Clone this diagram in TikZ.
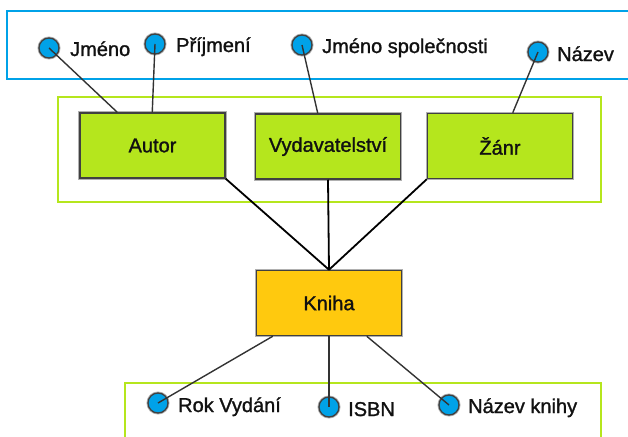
\documentclass[tikz,border=0pt]{standalone}
\usepackage{fontspec}
\setmainfont{Liberation Sans}[FakeBold=1.3]
\usetikzlibrary{calc}
\definecolor{cblue}{HTML}{00A2E8}
\definecolor{cgreen}{HTML}{B5E61D}
\definecolor{corange}{HTML}{FFC90E}
\definecolor{cedge}{HTML}{404040}
\definecolor{chalo}{HTML}{B0B0B0}
\definecolor{ctext}{HTML}{111111}
\tikzset{
  entity/.style={rectangle, draw=cedge, line width=1.5pt, minimum width=145pt, minimum height=65pt,
    font=\fontsize{20}{22}\selectfont, text=ctext, inner sep=0pt,
    preaction={draw=chalo, line width=3.5pt}},
  attr/.style={circle, draw=cedge, fill=cblue, line width=1.3pt, minimum size=20pt, inner sep=0pt,
    preaction={draw=chalo, line width=3pt}},
  lbl/.style={anchor=base west, inner sep=0pt, text=ctext, font=\fontsize{20}{22}\selectfont},
  grp/.style={line width=2pt},
  attrline/.style={draw=black!80, line width=1.4pt},
  relline/.style={draw=black, line width=1.8pt},
}
\begin{document}
\begin{tikzpicture}[x=1pt,y=-1pt]
\useasboundingbox (0,0) rectangle (628,436);
% group frames
\draw[grp, cblue] (640,11) -- (7,11) -- (7,79) -- (640,79);
\draw[grp, cgreen] (58,97) rectangle (601,202);
\draw[grp, cgreen] (125,450) -- (125,383) -- (601,383) -- (601,450);
% entities
\node[entity, fill=cgreen] (autor) at (152.5,145.5) {Autor};
\node[entity, fill=cgreen] (vyd) at (328,146.5) {Vydavatelství};
\node[entity, fill=cgreen] (zanr) at (500,146) {Žánr};
\node[entity, fill=corange] (kniha) at (329,303) {Kniha};
% attributes
\node[attr] (jmeno) at (49,48) {};
\node[attr] (prijmeni) at (155,44) {};
\node[attr] (jmspol) at (302,45) {};
\node[attr] (nazev) at (538,52) {};
\node[attr] (rok) at (158,403) {};
\node[attr] (isbn) at (329,407) {};
\node[attr] (nazevk) at (449,405) {};
% labels
\node[lbl] (tjmeno) at (70,56) {Jméno};
\node[lbl] (tprijmeni) at (176,52) {Příjmení};
\node[lbl] (tjmspol) at (322,53) {Jméno společnosti};
\node[lbl] (tnazev) at (557,61) {Název};
\node[lbl] (trok) at (178,412) {Rok Vydání};
\node[lbl] (tisbn) at (348,416) {ISBN};
\node[lbl] (tnazevk) at (468,413) {Název knihy};
% attribute connectors
\draw[attrline] (jmeno.center) -- ($(autor.north west)+(38,0)$);
\draw[attrline] (prijmeni.center) -- ($(autor.north west)+(73,0)$);
\draw[attrline] (jmspol.center) -- ($(vyd.north west)+(63,0)$);
\draw[attrline] (nazev.center) -- ($(zanr.north west)+(86,0)$);
\draw[attrline] ($(kniha.south west)+(17,0)$) -- (rok.center);
\draw[attrline] (kniha.south) -- (isbn.center);
\draw[attrline] ($(kniha.south west)+(111,0)$) -- (nazevk.center);
% relationship connectors
\draw[relline] (autor.south east) -- (kniha.north);
\draw[relline] (vyd.south) -- (kniha.north);
\draw[relline] (zanr.south west) -- (kniha.north);
\end{tikzpicture}
\end{document}
